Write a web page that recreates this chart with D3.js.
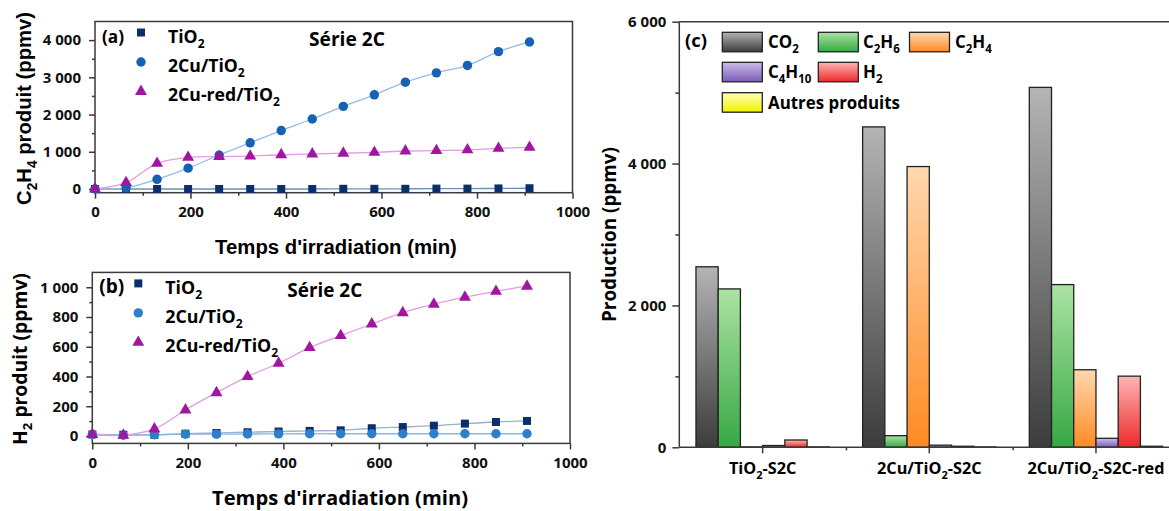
<!DOCTYPE html>
<html><head><meta charset="utf-8">
<script src="https://cdn.jsdelivr.net/npm/d3@7"></script>
<style>
body{margin:0;background:#fff}
svg{display:block;font-family:"Open Sans",sans-serif;font-weight:bold}
</style>
</head><body>
<svg id="chart" width="1169" height="511"></svg>
<script>
// ---------- DATA ----------
const times = [0,65,130,195,260,325,390,455,520,585,650,715,780,845,910];
// panel (a) C2H4 produit (ppmv)
const c2h4_TiO2   = [0,0,0,0,0,0,0,0,5,5,5,10,10,15,20];
const c2h4_Cu     = [0,30,260,560,910,1240,1570,1880,2220,2530,2870,3120,3320,3690,3950];
const c2h4_CuRed  = [0,170,690,850,870,885,920,940,960,985,1020,1030,1050,1090,1120];
// panel (b) H2 produit (ppmv)
const h2_TiO2  = [10,8,8,15,20,25,30,34,38,52,60,69,83,94,101];
const h2_Cu    = [10,5,8,12,12,13,14,15,15,15,15,15,15,15,15];
const h2_CuRed = [10,5,47,175,291,399,489,594,675,753,829,886,933,973,1007];
const seriesNames = ["TiO_{2}","2Cu/TiO_{2}","2Cu-red/TiO_{2}"];
const xTicks = [0,200,400,600,800,1000];
// panel (c) Production (ppmv)
const categories = ["TiO_{2}-S2C","2Cu/TiO_{2}-S2C","2Cu/TiO_{2}-S2C-red"];
const products = ["CO_{2}","C_{2}H_{6}","C_{2}H_{4}","C_{4}H_{10}","H_{2}","Autres produits"];
const prod_CO2    = [2545,4517,5074];
const prod_C2H6   = [2233,164,2294];
const prod_C2H4   = [5,3958,1093];
const prod_C4H10  = [25,30,127];
const prod_H2     = [103,15,1003];
const prod_Autres = [5,5,15];

// ---------- HELPERS ----------
const svg = d3.select("#chart");
const fmtS = d => d >= 1000 ? d3.format(",")(d).replace(/,/g, " ") : String(d);
const OPEN = "'Open Sans',sans-serif";
const ARIAL = "'Liberation Sans',Arial,sans-serif";

function rich(textSel, str, size) {
  textSel.selectAll("tspan").remove();
  const parts = str.split(/(_\{[^}]*\})/).filter(s => s.length);
  let sub = false;
  parts.forEach(p => {
    const m = p.match(/^_\{([^}]*)\}$/);
    if (m) {
      textSel.append("tspan").attr("dy", size*0.28).attr("font-size", size*0.68).text(m[1]);
      sub = true;
    } else {
      const t = textSel.append("tspan").attr("font-size", size).text(p);
      if (sub) { t.attr("dy", -size*0.28); sub = false; }
    }
  });
  return textSel;
}
// draw rich text and scale its font so its advance equals targetLen
function fitRich(textSel, str, targetLen) {
  rich(textSel, str, 20);
  const L = textSel.node().getComputedTextLength();
  const s = 20 * targetLen / L;
  rich(textSel, str, s);
  return s;
}

const frameColor = "#3a3a3a";

function styleAxis(a) {
  a.select(".domain").remove();
  a.selectAll("line").attr("stroke",frameColor).attr("stroke-width",1.5);
  a.selectAll("text").attr("font-size",15).attr("font-weight","bold")
    .attr("font-family",OPEN).attr("fill","#111");
}

function linePanel(cfg) {
  const x = d3.scaleLinear().domain([0,1000]).range([cfg.x0, cfg.x1]);
  const y = d3.scaleLinear().domain(cfg.yDomain).range([cfg.y1, cfg.y0]);
  const g = svg.append("g");
  g.append("rect").attr("x", cfg.x0).attr("y", cfg.y0)
    .attr("width", cfg.x1-cfg.x0).attr("height", cfg.y1-cfg.y0)
    .attr("fill","none").attr("stroke",frameColor).attr("stroke-width",1.5);
  const xa = g.append("g").attr("transform",`translate(0,${cfg.y1})`)
    .call(d3.axisBottom(x).tickValues(xTicks).tickSize(6).tickPadding(8).tickFormat(d=>d));
  const xm = g.append("g").attr("transform",`translate(0,${cfg.y1})`)
    .call(d3.axisBottom(x).tickValues([100,300,500,700,900]).tickSize(3).tickFormat(""));
  const ya = g.append("g").attr("transform",`translate(${cfg.x0},0)`)
    .call(d3.axisLeft(y).tickValues(cfg.yTicks).tickSize(6).tickPadding(8).tickFormat(fmtS));
  const ym = g.append("g").attr("transform",`translate(${cfg.x0},0)`)
    .call(d3.axisLeft(y).tickValues(cfg.yMinor).tickSize(3).tickFormat(""));
  [xa,xm,ya,ym].forEach(styleAxis);
  cfg.series.forEach(s => {
    const pts = times.map((t,i) => [t, s.values[i]]);
    g.append("path").datum(pts)
      .attr("d", d3.line().x(d=>x(d[0])).y(d=>y(d[1])).curve(d3.curveCatmullRom.alpha(0.5)))
      .attr("fill","none").attr("stroke",s.line).attr("stroke-width",1.3);
  });
  cfg.series.forEach(s => {
    g.selectAll(null).data(times.map((t,i)=>[t,s.values[i]])).enter()
      .append("path")
      .attr("transform", d=>`translate(${x(d[0])},${y(d[1])})`)
      .attr("d", d3.symbol().type(s.sym).size(s.size))
      .attr("fill", s.color);
  });
  // label and legend
  fitRich(g.append("text").attr("x", cfg.x0+7).attr("y", cfg.y0+21), cfg.label, cfg.labelW);
  const lt = [];
  cfg.series.forEach((s,i) => {
    g.append("path").attr("transform",`translate(${cfg.x0+46},${cfg.y0+11+i*29.5})`)
      .attr("d", d3.symbol().type(s.sym).size(s.size)).attr("fill", s.color);
    lt.push(g.append("text").attr("x", cfg.x0+73).attr("y", cfg.y0+21.5+i*29));
  });
  const ls = fitRich(lt[2], seriesNames[2], cfg.legW);
  rich(lt[0], seriesNames[0], ls); rich(lt[1], seriesNames[1], ls);
  fitRich(g.append("text").attr("x", cfg.serieX).attr("y", cfg.y0+24.5), "Série 2C", cfg.serieW);
  // titles
  fitRich(g.append("text").attr("x", cfg.xtX).attr("y", cfg.xtY).attr("text-anchor","middle")
    .attr("font-family", cfg.xtFont), "Temps d'irradiation (min)", cfg.xtW);
  fitRich(g.append("text").attr("transform",`translate(${cfg.ytX},${cfg.ytY}) rotate(-90)`)
    .attr("text-anchor","middle").attr("font-family", cfg.ytFont), cfg.yTitle, cfg.ytW);
}

linePanel({
  x0:95, x1:572.5, y0:21.5, y1:192.7, yDomain:[-100,4500],
  yTicks:[0,1000,2000,3000,4000], yMinor:[500,1500,2500,3500],
  label:"(a)", labelW:22, legW:112, serieX:309, serieW:76,
  xtX:336, xtY:254, xtW:242, xtFont:ARIAL,
  ytX:31, ytY:108.5, ytW:193, ytFont:ARIAL,
  yTitle:"C_{2}H_{4} produit (ppmv)",
  series:[
    {values:c2h4_TiO2, color:"#0b2f6e", line:"#6f8fbf", sym:d3.symbolSquare, size:64},
    {values:c2h4_Cu, color:"#1562b4", line:"#93bde6", sym:d3.symbolCircle, size:70},
    {values:c2h4_CuRed, color:"#a0169f", line:"#e39be3", sym:d3.symbolTriangle, size:62}
  ]
});
linePanel({
  x0:92.3, x1:570, y0:272.4, y1:443.4, yDomain:[-50,1100],
  yTicks:[0,200,400,600,800,1000], yMinor:[100,300,500,700,900],
  label:"(b)", labelW:25, legW:113, serieX:287.3, serieW:75,
  xtX:340, xtY:505, xtW:256, xtFont:OPEN,
  ytX:27, ytY:359, ytW:172, ytFont:OPEN,
  yTitle:"H_{2} produit (ppmv)",
  series:[
    {values:h2_TiO2, color:"#0b2f6e", line:"#9fb0c9", sym:d3.symbolSquare, size:64},
    {values:h2_Cu, color:"#2b80c9", line:"#87b7e4", sym:d3.symbolCircle, size:70},
    {values:h2_CuRed, color:"#a0169f", line:"#e39be3", sym:d3.symbolTriangle, size:62}
  ]
});

// ---------- PANEL (c) ----------
(function(){
  const x0 = 679.3, x1 = 1179.3, y0 = 21.7, y1 = 447.3;
  const series = [prod_CO2, prod_C2H6, prod_C2H4, prod_C4H10, prod_H2, prod_Autres];
  const grads = [["#b4b4b4","#3c3c3c"],["#abe3a4","#37a843"],["#ffd8b0","#ff8a22"],
                 ["#cdbdea","#7c5cb6"],["#ffb4b4","#ec2a2a"],["#ffffb8","#f2f200"]];
  const defs = svg.append("defs");
  grads.forEach((c,i) => {
    const lg = defs.append("linearGradient").attr("id","g"+i)
      .attr("x1",0).attr("y1",0).attr("x2",0).attr("y2",1);
    lg.append("stop").attr("offset","0%").attr("stop-color",c[0]);
    lg.append("stop").attr("offset","100%").attr("stop-color",c[1]);
  });
  const x = d3.scaleBand().domain(categories).range([x0,x1]).padding(0);
  const inner = d3.scaleBand().domain(d3.range(6)).range([0, x.bandwidth()*0.8]).padding(0);
  const y = d3.scaleLinear().domain([0,6000]).range([y1,y0]);
  const g = svg.append("g");
  categories.forEach((cat,ci) => {
    const off = x(cat) + x.bandwidth()*0.1;
    series.forEach((vals,si) => {
      g.append("rect").attr("x", off+inner(si)).attr("y", y(vals[ci]))
        .attr("width", inner.bandwidth()).attr("height", y1 - y(vals[ci]))
        .attr("fill", `url(#g${si})`).attr("stroke","#222").attr("stroke-width",1.3);
    });
  });
  [[x0,y0,x1,y0],[x0,y0,x0,y1],[x0,y1,x1,y1],[x1,y0,x1,y1]].forEach(l =>
    g.append("line").attr("x1",l[0]).attr("y1",l[1]).attr("x2",l[2]).attr("y2",l[3])
      .attr("stroke",frameColor).attr("stroke-width",1.5));
  const ya = g.append("g").attr("transform",`translate(${x0},0)`)
    .call(d3.axisLeft(y).tickValues([0,2000,4000,6000]).tickSize(7).tickPadding(6).tickFormat(fmtS));
  const ym = g.append("g").attr("transform",`translate(${x0},0)`)
    .call(d3.axisLeft(y).tickValues([1000,3000,5000]).tickSize(4).tickFormat(""));
  const xa = g.append("g").attr("transform",`translate(0,${y1})`)
    .call(d3.axisBottom(x).tickSize(6).tickFormat(""));
  const xm = g.append("g").attr("transform",`translate(0,${y1})`)
    .call(d3.axisBottom(d3.scaleLinear().domain([0,3]).range([x0,x1])).tickValues([1,2]).tickSize(3).tickFormat(""));
  [ya,ym,xa,xm].forEach(styleAxis);
  const xl = categories.map(cat => g.append("text").attr("x", x(cat)+x.bandwidth()/2).attr("y", 474)
      .attr("text-anchor","middle"));
  const xs = fitRich(xl[2], categories[2], 137);
  rich(xl[0], categories[0], xs); rich(xl[1], categories[1], xs);
  fitRich(g.append("text").attr("transform",`translate(616,322) rotate(-90)`), "Production (ppmv)", 175);
  fitRich(g.append("text").attr("x",685).attr("y",47), "(c)", 22);
  const leg = [[0,722.3,32.3,768],[1,818.3,32.3,863],[2,909.5,32.3,955],
               [3,722.3,62.3,768],[4,818.3,62.3,863],[5,722.3,92.7,768]];
  const lts = leg.map(([i,lx,ly,tx]) => {
    g.append("rect").attr("x",lx).attr("y",ly).attr("width",40).attr("height",19.5)
      .attr("fill",`url(#g${i})`).attr("stroke","#222").attr("stroke-width",1.3);
    return g.append("text").attr("x",tx).attr("y",ly+16);
  });
  const ps = fitRich(lts[5], products[5], 132);
  for (let i = 0; i < 5; i++) rich(lts[i], products[i], ps);
})();
</script>
</body></html>
